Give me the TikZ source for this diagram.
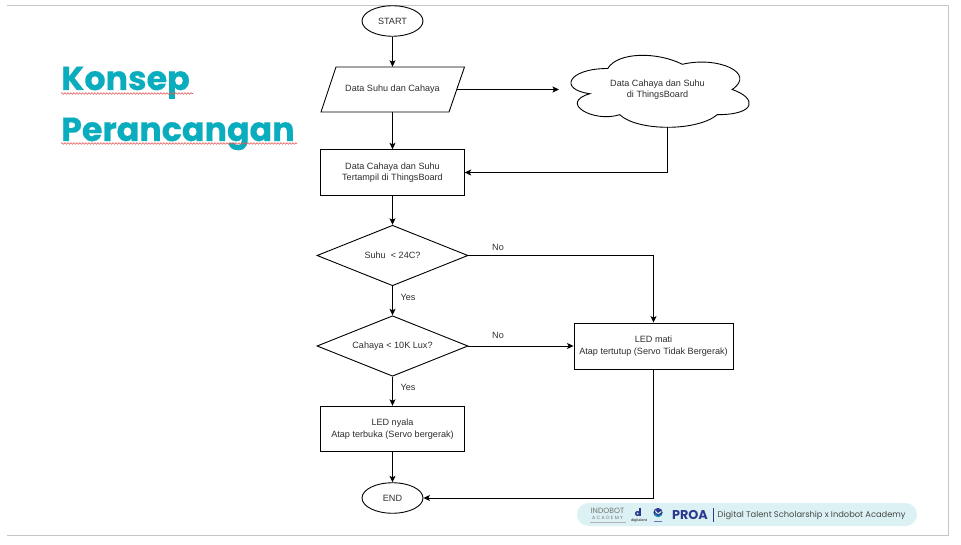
\documentclass[tikz,border=0pt]{standalone}
\usepackage{fontspec}
\setmainfont{Liberation Sans}
\newfontfamily\titlefont[BoldFeatures={FakeBold=0.35}]{Poppins}
\newfontfamily\plainpop{Poppins}
\usetikzlibrary{arrows.meta,shapes.geometric,decorations.pathmorphing}
\definecolor{teal1}{HTML}{0AADBD}
\definecolor{pill}{HTML}{DCF1F3}
\definecolor{navy}{HTML}{2B3A8F}
\definecolor{frameg}{HTML}{C6C6C6}
\definecolor{wavy}{HTML}{E25A5A}
\tikzset{
  px/.style={x=1pt,y=-1pt},
  lbl/.style={font=\fontsize{9.1}{11.6}\selectfont,text=black!82,align=center,inner sep=0pt},
  boxnode/.style={draw,line width=0.9pt,lbl,rectangle,minimum width=143.5pt,minimum height=45.5pt},
  term/.style={draw,line width=0.9pt,lbl,ellipse,minimum width=61pt,minimum height=30.5pt},
  dec/.style={draw,line width=0.9pt,lbl,diamond,aspect=2.5,minimum width=151pt,minimum height=60.5pt},
  paratext/.style={lbl,rectangle,minimum width=128pt,minimum height=45pt},
  outline/.style={line width=0.9pt},
  conn/.style={line width=0.9pt,-{Stealth[length=6.5pt,width=6pt,inset=1.5pt]}},
  plainlbl/.style={font=\fontsize{9.1}{11.6}\selectfont,text=black!82,inner sep=0pt},
  ttl/.style={font=\titlefont\bfseries\fontsize{33.3}{33.3}\selectfont,text=teal1,inner sep=0pt,anchor=base west},
  squiggle/.style={draw=wavy,line width=0.6pt,decorate,decoration={snake,amplitude=0.8pt,segment length=3pt}},
  foot/.style={inner sep=0pt,text=black!70}
}
\begin{document}
\begin{tikzpicture}[px]
\useasboundingbox (0,0) rectangle (961,545);
\fill[white] (0,0) rectangle (961,545);
% slide frame
\draw[frameg,line width=1pt] (7,5.5) -- (948,5.5) -- (948,535) -- (7,535);

% title
\node[ttl] (t1) at (61,90) {Konsep};
\node[ttl] (t2) at (61,141) {Perancangan};
\draw[squiggle] (61,93.5) -- (193,93.5);
\draw[squiggle] (61,143.5) -- (297,143.5);

% flow nodes
\node[term] (start) at (392.5,21) {START};
\draw[outline] (336,67) -- (464.5,67) -- (449,112) -- (321,112) -- cycle;
\node[paratext] (data) at (392.5,89.5) {Data Suhu dan Cahaya};
\node[boxnode] (tampil) at (392.5,172.5) {Data Cahaya dan Suhu\\Tertampil di ThingsBoard};
\node[dec] (suhu) at (392.5,255.5) {Suhu\ \ \textless{} 24C?};
\node[dec] (cahaya) at (392.5,346) {Cahaya \textless{} 10K Lux?};
\node[boxnode] (nyala) at (392.5,429) {LED nyala\\Atap terbuka (Servo bergerak)};
\node[term] (end) at (392.5,498) {END};
\node[boxnode,minimum width=159pt,minimum height=46pt] (mati) at (653.5,346) {LED mati\\Atap tertutup (Servo Tidak Bergerak)};

% cloud
\begin{scope}[shift={(558,47.5)},x=199pt,y=-84pt]
\draw[outline] (0.25,0.25) .. controls (0.05,0.25) and (0,0.5) .. (0.16,0.55)
  .. controls (0,0.66) and (0.18,0.9) .. (0.31,0.8)
  .. controls (0.4,1) and (0.7,1) .. (0.8,0.8)
  .. controls (1,0.8) and (1,0.6) .. (0.875,0.5)
  .. controls (1,0.3) and (0.8,0.1) .. (0.625,0.2)
  .. controls (0.5,0.05) and (0.3,0.05) .. (0.25,0.25) -- cycle;
\end{scope}
\node[lbl] (cloudtxt) at (657.5,89.5) {Data Cahaya dan Suhu\\di ThingsBoard};
\coordinate (cloudin) at (559,89.5);
\coordinate (cloudout) at (667,127);

% connectors
\draw[conn] (start) -- (data);
\draw[conn] (data) -- (tampil);
\draw[conn] (data.east) -- (cloudin);
\draw[conn] (cloudout) |- (tampil.east);
\draw[conn] (tampil) -- (suhu);
\draw[conn] (suhu) -- (cahaya);
\draw[conn] (cahaya) -- (nyala);
\draw[conn] (nyala) -- (end);
\draw[conn] (suhu.east) -| (mati.north);
\draw[conn] (cahaya.east) -- (mati.west);
\draw[conn] (mati.south) |- (end.east);

% labels
\node[plainlbl] (no1) at (498,247.5) {No};
\node[plainlbl] (no2) at (498,335) {No};
\node[plainlbl] (yes1) at (408,297) {Yes};
\node[plainlbl] (yes2) at (408,387.5) {Yes};

% footer
\fill[pill,rounded corners=11.5pt] (577,503) rectangle (917,526);
\node[foot,font=\plainpop\fontsize{7.6}{7.6}\selectfont,text=black!55] (ind) at (607.5,510.5) {INDOBOT};
\node[foot,font=\plainpop\fontsize{4.6}{4.6}\selectfont\addfontfeatures{LetterSpace=32},text=black!55] (aca) at (607.5,518) {ACADEMY};
\draw[black!30,line width=0.5pt] (590,522) -- (626,522);
% digitalent mark
\fill[navy] (637.5,513.5) circle (2.6pt);
\fill[pill] (637.5,513.5) circle (1pt);
\draw[navy,line width=1.2pt] (640,507.5) -- (640,516);
\node[foot,font=\bfseries\fontsize{3.6}{3.6}\selectfont] (dgt) at (639,520.8) {digitalent};
% ministry mark
\fill[navy] (658,512.5) circle (4.6pt);
\draw[teal1,line width=1pt] (655,514) arc (200:330:3.6pt);
\draw[pill,line width=1pt] (655.5,510.5) arc (180:340:3pt);
\draw[navy!70,line width=0.5pt] (654,521) -- (662,521);
\node[foot,font=\plainpop\bfseries\fontsize{12.8}{12.8}\selectfont,text=navy] (proa) at (690,514.5) {PROA};
\draw[navy,line width=0.8pt] (713.5,508) -- (713.5,522);
\node[foot,font=\plainpop\fontsize{8.3}{8.3}\selectfont,text=black!72,anchor=west] (dts) at (717.5,515) {Digital Talent Scholarship x Indobot Academy};
\end{tikzpicture}
\end{document}
